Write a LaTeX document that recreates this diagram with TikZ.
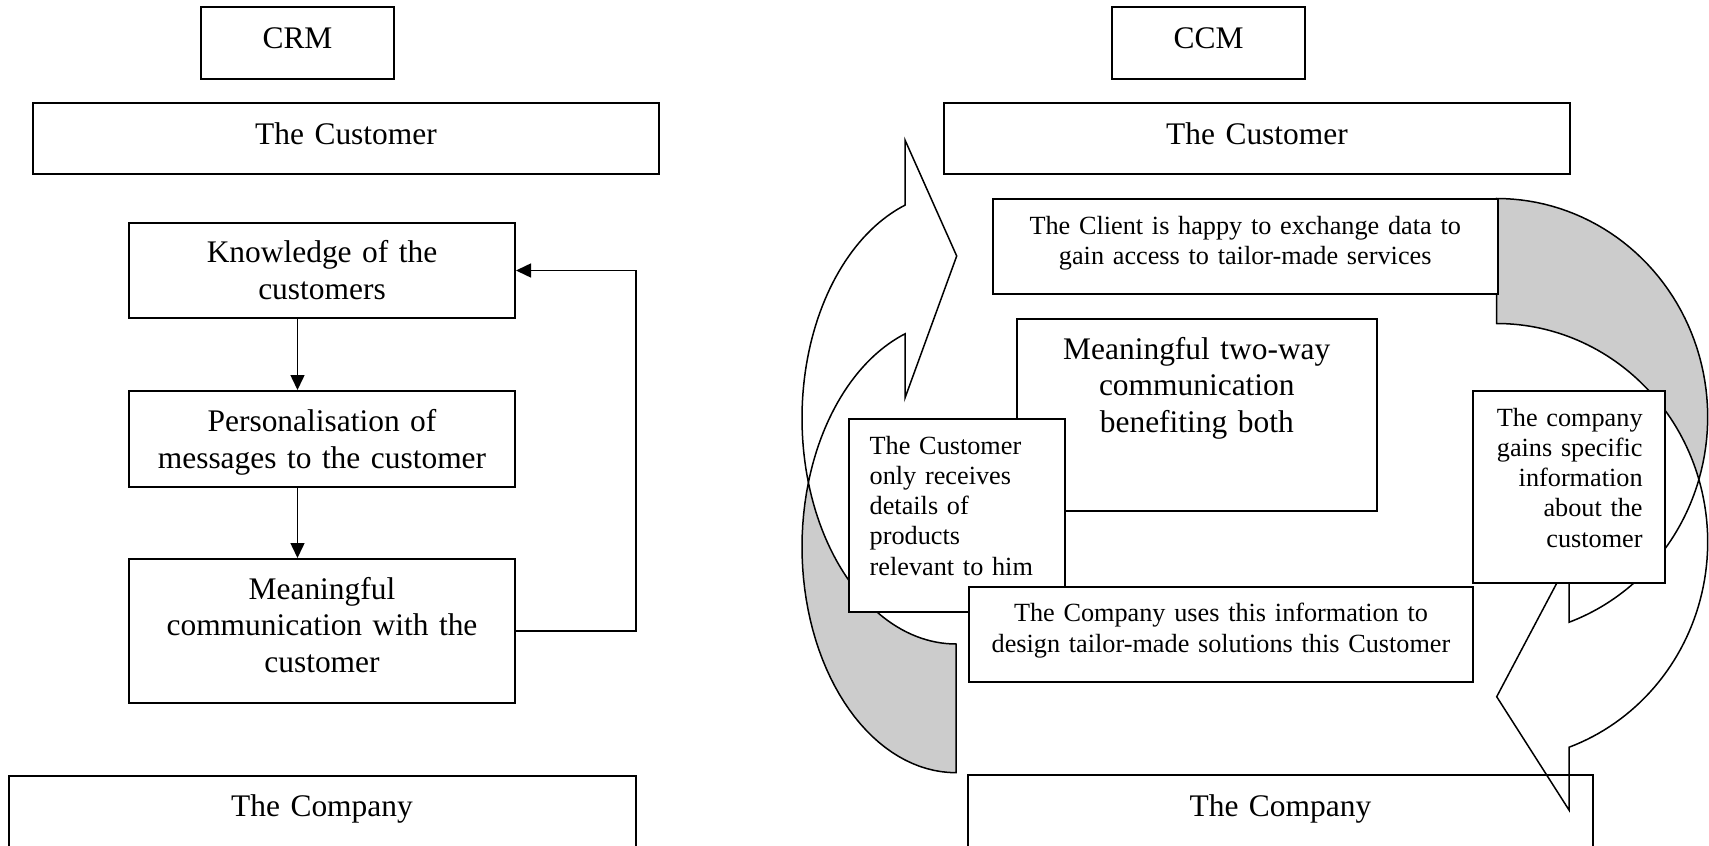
\documentclass[tikz,border=0pt]{standalone}
\usepackage{fontspec}
\setmainfont{Liberation Serif}
\usetikzlibrary{arrows.meta,fit}
\definecolor{backgray}{RGB}{204,204,204}
\newcommand\txtbig{\fontsize{15.72}{18.35}\selectfont}
\newcommand\txtsmall{\fontsize{13.12}{15.15}\selectfont}
\begin{document}
\begin{tikzpicture}[x=0.5pt,y=-0.5pt,
  bx/.style={draw,line width=1pt,fill=white,inner sep=0pt},
  bxo/.style={draw,line width=1pt,inner sep=0pt},
  tb/.style={font=\txtbig,inner sep=0pt,text width=250pt,align=center,anchor=base},
  ts/.style={font=\txtsmall,inner sep=0pt,text width=280pt,align=center,anchor=base},
  flow/.style={line width=0.75pt,-{Triangle[length=7.5pt,width=7pt]}},
  band/.style={draw,line width=0.75pt,fill=white,line join=miter},
  back/.style={draw,line width=0.75pt,fill=backgray,line join=miter}]
\useasboundingbox (0,0) rectangle (1709,846);
\clip (0,0) rectangle (1709,846);

% ---------- CRM side ----------
\node[bx,fit={(201,7)(394,79)}] (crm) {};
\node[tb] (crm-t) at (297.5,48.6) {CRM};
\node[bx,fit={(33,103)(659,174)}] (custL) {};
\node[tb] (custL-t) at (346,144.6) {The Customer};
\node[bx,fit={(129,223)(515,318)}] (know) {};
\node[tb] (know-t) at (322,262.8) {Knowledge of the\\customers};
\node[bx,fit={(129,391)(515,487)}] (pers) {};
\node[tb] (pers-t) at (322,431.7) {Personalisation of\\messages to the customer};
\node[bx,fit={(129,559)(515,703)}] (mean) {};
\node[tb] (mean-t) at (322,599) {Meaningful\\communication with the\\customer};
\node[bx,fit={(8.5,775.5)(636,870)}] (compL) {};
\node[tb] (compL-t) at (322,816) {The Company};

\draw[flow] (know.south -| crm.south) -- (pers.north -| crm.south);
\draw[flow] (pers.south -| crm.south) -- (mean.north -| crm.south);
\draw[flow] (mean.east) -- ++(120,0) |- (know.east);

% ---------- CCM side: curved arrows ----------
% left arrow
\path[back] (956,772.7)
  -- plot[domain=90:196.57,samples=40] ({956+154*cos(\x)},{546.9+225.8*sin(\x)})
  -- plot[domain=163.45:90,samples=40] ({956+154*cos(\x)},{418.2+225.8*sin(\x)})
  -- cycle;
\path[band] plot[domain=163.45:250.66,samples=50] ({956+154*cos(\x)},{418.2+225.8*sin(\x)})
  -- (905,140) -- (956.7,256) -- (905,398)
  -- plot[domain=250.66:196.57,samples=40] ({956+154*cos(\x)},{546.9+225.8*sin(\x)})
  -- cycle;
% right arrow
\path[back] (1496.7,198.5)
  -- plot[domain=270:376.62,samples=50] ({1496.7+211*cos(\x)},{417+218.5*sin(\x)})
  -- plot[domain=343.38:270,samples=50] ({1496.7+211*cos(\x)},{542+218.5*sin(\x)})
  -- cycle;
\path[band] plot[domain=-16.62:69.96,samples=50] ({1496.7+211*cos(\x)},{542+218.5*sin(\x)})
  -- (1569,810) -- (1496.7,696.7) -- (1569,560)
  -- plot[domain=69.96:16.62,samples=40] ({1496.7+211*cos(\x)},{417+218.5*sin(\x)})
  -- cycle;

% ---------- CCM side: boxes ----------
\node[bx,fit={(1112,7)(1305,79)}] (ccm) {};
\node[tb] (ccm-t) at (1208.5,48.6) {CCM};
\node[bx,fit={(944,103)(1570,174)}] (custR) {};
\node[tb] (custR-t) at (1257,144.6) {The Customer};
\node[bx,fit={(992.7,199)(1497.7,294.3)}] (client) {};
\node[ts] (client-t) at (1245.2,234) {The Client is happy to exchange data to\\gain access to tailor-made services};
\node[bx,fit={(1016.7,319)(1377,510.7)}] (two) {};
\node[tb] (two-t) at (1196.8,359) {Meaningful two-way\\communication\\benefiting both};
\node[bx,fit={(848.7,419.3)(1064.6,611.7)}] (only) {};
\node[ts,text width=120pt,align=left,anchor=base west] (only-t) at (869.3,454) {The Customer\\only receives\\details of\\products\\relevant to him};
\node[bx,fit={(968.8,586.7)(1473,681.7)}] (uses) {};
\node[ts] (uses-t) at (1221,621.7) {The Company uses this information to\\design tailor-made solutions this Customer};
\node[bx,fit={(1472.7,390.7)(1665,582.7)}] (gains) {};
\node[ts,text width=100pt,align=right,anchor=base east] (gains-t) at (1643,426) {The company\\gains specific\\information\\about the\\customer};
\node[bxo,fit={(968,775)(1592.7,870)}] (compR) {};
\node[tb] (compR-t) at (1280.4,816) {The Company};
\end{tikzpicture}
\end{document}
